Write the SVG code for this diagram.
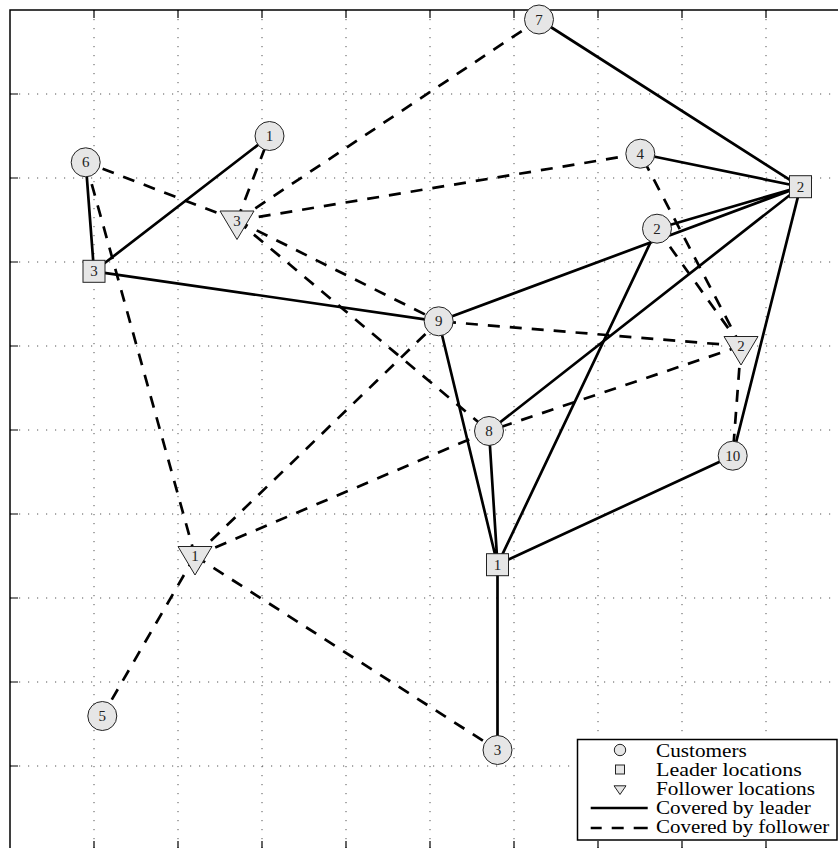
<svg xmlns="http://www.w3.org/2000/svg" width="838" height="848" viewBox="0 0 838 848">
<style>
.grid{stroke:#555;stroke-width:1;stroke-dasharray:1.2 7.8;fill:none}
.frame{stroke:#000;stroke-width:1.5;fill:none}
.tick{stroke:#000;stroke-width:1.2}
.lead{stroke:#000;stroke-width:2.7;fill:none}
.foll{stroke:#000;stroke-width:2.7;fill:none;stroke-dasharray:12 10}
.cust{fill:#e6e6e6;stroke:#222;stroke-width:1}
.lbl{font-family:"Liberation Serif","DejaVu Serif",serif;font-size:15px;fill:#222;text-anchor:middle}
.leg{font-family:"Liberation Serif","DejaVu Serif",serif;font-size:19px;fill:#000}
</style>
<defs>
<circle id="mc" r="14.5" class="cust"/>
<rect id="ms" x="-11" y="-11" width="22" height="22" class="cust"/>
<polygon id="mt" points="-17,-9.5 17,-9.5 0,19" class="cust"/>
</defs>
<rect x="0" y="0" width="838" height="848" fill="#fff"/>
<g id="grid">
<path class="grid" d="M94 10V850M178 10V850M262 10V850M346 10V850M430 10V850M514 10V850M598 10V850M682 10V850M766 10V850"/>
<path class="grid" d="M10 94H850M10 178H850M10 262H850M10 346H850M10 430H850M10 514H850M10 598H850M10 682H850M10 766H850"/>
</g>
<g id="axes">
<rect class="frame" x="10" y="10" width="840" height="839.5"/>
<path class="tick" d="M94 10V18M178 10V18M262 10V18M346 10V18M430 10V18M514 10V18M598 10V18M682 10V18M766 10V18"/>
<path class="tick" d="M94 841V849M178 841V849M262 841V849M346 841V849M430 841V849M514 841V849M598 841V849M682 841V849M766 841V849"/>
<path class="tick" d="M10 94H18M10 178H18M10 262H18M10 346H18M10 430H18M10 514H18M10 598H18M10 682H18M10 766H18"/>
</g>
<g id="connectors">
<path class="lead" d="M94 271.3L85.7 162.3M94 271.3L269.5 136M94 271.3L438.7 321.3"/>
<path class="lead" d="M800.5 186.7L539 19.5M800.5 186.7L640.3 153.7M800.5 186.7L657 228.7M800.5 186.7L438.7 321.3M800.5 186.7L489 431M800.5 186.7L732.7 455.7"/>
<path class="lead" d="M497.5 564.7L438.7 321.3M497.5 564.7L489 431M497.5 564.7L657 228.7M497.5 564.7L732.7 455.7M497.5 564.7L497.5 750"/>
<path class="foll" d="M237 220.5L269.5 136M237 220.5L85.7 162.3M237 220.5L539 19.5M237 220.5L640.3 153.7M237 220.5L438.7 321.3M237 220.5L489 431"/>
<path class="foll" d="M741 346L640.3 153.7M741 346L657 228.7M741 346L438.7 321.3M741 346L489 431M741 346L732.7 455.7"/>
<path class="foll" d="M195 556L85.7 162.3M195 556L438.7 321.3M195 556L489 431M195 556L102.3 716M195 556L497.5 750"/>
</g>
<g id="c1"><use href="#mc" x="269.5" y="136"/><text class="lbl" x="269.5" y="141">1</text></g>
<g id="c2"><use href="#mc" x="657" y="228.7"/><text class="lbl" x="657" y="233.7">2</text></g>
<g id="c3"><use href="#mc" x="497.5" y="750"/><text class="lbl" x="497.5" y="755">3</text></g>
<g id="c4"><use href="#mc" x="640.3" y="153.7"/><text class="lbl" x="640.3" y="158.7">4</text></g>
<g id="c5"><use href="#mc" x="102.3" y="716"/><text class="lbl" x="102.3" y="721">5</text></g>
<g id="c6"><use href="#mc" x="85.7" y="162.3"/><text class="lbl" x="85.7" y="167.3">6</text></g>
<g id="c7"><use href="#mc" x="539" y="19.5"/><text class="lbl" x="539" y="24.5">7</text></g>
<g id="c8"><use href="#mc" x="489" y="431"/><text class="lbl" x="489" y="436">8</text></g>
<g id="c9"><use href="#mc" x="438.7" y="321.3"/><text class="lbl" x="438.7" y="326.3">9</text></g>
<g id="c10"><use href="#mc" x="732.7" y="455.7"/><text class="lbl" x="732.7" y="460.7">10</text></g>
<g id="L1"><use href="#ms" x="497.5" y="564.7"/><text class="lbl" x="497.5" y="569.7">1</text></g>
<g id="L2"><use href="#ms" x="800.5" y="186.7"/><text class="lbl" x="800.5" y="191.7">2</text></g>
<g id="L3"><use href="#ms" x="94" y="271.3"/><text class="lbl" x="94" y="276.3">3</text></g>
<g id="F1"><use href="#mt" x="195" y="556"/><text class="lbl" x="195" y="561">1</text></g>
<g id="F2"><use href="#mt" x="741" y="346"/><text class="lbl" x="741" y="351">2</text></g>
<g id="F3"><use href="#mt" x="237" y="220.5"/><text class="lbl" x="237" y="225.5">3</text></g>
<g id="legend">
<rect x="577.5" y="739.5" width="259.5" height="100.5" fill="#fff" stroke="#000" stroke-width="1.5"/>
<circle cx="620" cy="750" r="5.7" class="cust"/>
<rect x="615.5" y="765" width="9" height="9" class="cust"/>
<polygon points="614,785.8 626,785.8 620,794.5" class="cust"/>
<path class="lead" d="M590.7 808H647.7"/>
<path d="M590.7 828H647.7" stroke="#000" stroke-width="2.7" stroke-dasharray="11 10 12 10 15"/>
<text class="leg" x="656" y="756.5" textLength="90.7" lengthAdjust="spacingAndGlyphs">Customers</text>
<text class="leg" x="656" y="775.5" textLength="145.7" lengthAdjust="spacingAndGlyphs">Leader locations</text>
<text class="leg" x="656" y="794.5" textLength="159" lengthAdjust="spacingAndGlyphs">Follower locations</text>
<text class="leg" x="656" y="813.5" textLength="154.7" lengthAdjust="spacingAndGlyphs">Covered by leader</text>
<text class="leg" x="656" y="832.5" textLength="173.3" lengthAdjust="spacingAndGlyphs">Covered by follower</text>
</g>
</svg>
